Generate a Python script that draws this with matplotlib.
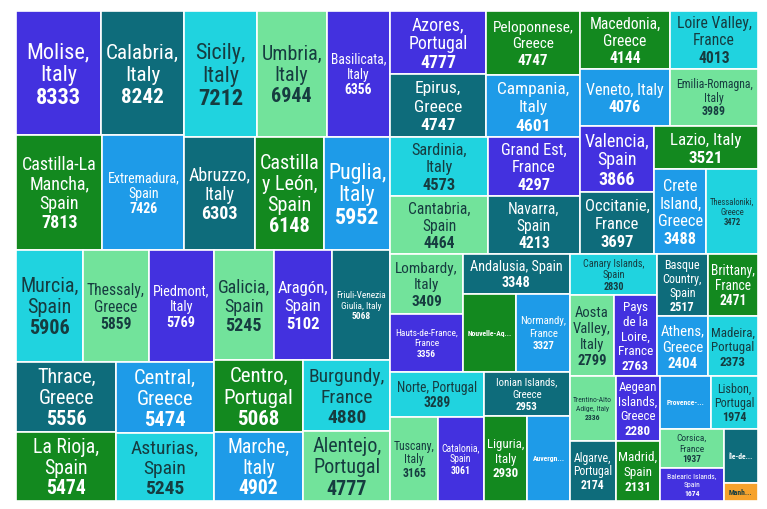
import matplotlib
matplotlib.use("Agg")
import matplotlib.pyplot as plt
from matplotlib import font_manager
from matplotlib.font_manager import FontProperties
from matplotlib.patches import Rectangle

# regions (already ordered by value, largest first)
regions = [
    "Molise, Italy", "Calabria, Italy", "Castilla-La Mancha, Spain", "Extremadura, Spain",
    "Sicily, Italy", "Umbria, Italy", "Basilicata, Italy", "Abruzzo, Italy",
    "Castilla y León, Spain", "Puglia, Italy", "Murcia, Spain", "Thessaly, Greece",
    "Piedmont, Italy", "Thrace, Greece", "La Rioja, Spain", "Central, Greece",
    "Asturias, Spain", "Galicia, Spain", "Aragón, Spain", "Friuli-Venezia Giulia, Italy",
    "Centro, Portugal", "Marche, Italy", "Burgundy, France", "Alentejo, Portugal",
    "Azores, Portugal", "Epirus, Greece", "Peloponnese, Greece", "Campania, Italy",
    "Sardinia, Italy", "Cantabria, Spain", "Grand Est, France", "Navarra, Spain",
    "Macedonia, Greece", "Veneto, Italy", "Loire Valley, France", "Emilia-Romagna, Italy",
    "Valencia, Spain", "Occitanie, France", "Lazio, Italy", "Crete Island, Greece",
    "Thessaloniki, Greece", "Lombardy, Italy", "Hauts-de-France, France", "Andalusia, Spain",
    "Nouvelle-Aquitaine, France", "Normandy, France", "Norte, Portugal", "Tuscany, Italy",
    "Catalonia, Spain", "Ionian Islands, Greece", "Liguria, Italy", "Auvergne-Rhône-Alpes, France",
    "Canary Islands, Spain", "Aosta Valley, Italy", "Pays de la Loire, France", "Basque Country, Spain",
    "Brittany, France", "Athens, Greece", "Madeira, Portugal", "Trentino-Alto Adige, Italy",
    "Aegean Islands, Greece", "Algarve, Portugal", "Madrid, Spain", "Provence-Alpes-Côte d'Azur, France",
    "Lisbon, Portugal", "Corsica, France", "Balearic Islands, Spain", "Île-de-France, France",
    "Manhattan",
]
values = [
    8333, 8242, 7813, 7426, 7212, 6944, 6356, 6303, 6148, 5952,
    5906, 5859, 5769, 5556, 5474, 5474, 5245, 5245, 5102, 5068,
    5068, 4902, 4880, 4777, 4777, 4747, 4747, 4601, 4573, 4464,
    4297, 4213, 4144, 4076, 4013, 3989, 3866, 3697, 3521, 3488,
    3472, 3409, 3356, 3348, 3335, 3327, 3289, 3165, 3061, 2953,
    2930, 2890, 2830, 2799, 2763, 2517, 2471, 2404, 2373, 2336,
    2280, 2174, 2131, 2100, 1974, 1937, 1674, 1470, 490,
]

palette = ["#4331df", "#0e6c7b", "#13891f", "#1e9be8", "#20d3df", "#72e39b"]
special = {"Manhattan": "#f6a22c"}
light = {"#20d3df", "#72e39b", "#f6a22c"}
dark_text = "#163c40"

W, H = 742, 490
DPI = 100


def binary(vals, x0, y0, x1, y1):
    # same idea as d3.treemapBinary
    sums = [0]
    for v in vals:
        sums.append(sums[-1] + v)
    out = [None] * len(vals)

    def part(i, j, value, x0, y0, x1, y1):
        if i >= j - 1:
            out[i] = (x0, y0, x1, y1)
            return
        off = sums[i]
        target = value / 2 + off
        k, hi = i + 1, j - 1
        while k < hi:
            mid = (k + hi) // 2
            if sums[mid] < target:
                k = mid + 1
            else:
                hi = mid
        if (target - sums[k - 1]) < (sums[k] - target) and i + 1 < k:
            k -= 1
        left = sums[k] - off
        right = value - left
        if (x1 - x0) > (y1 - y0):
            xk = (x0 * right + x1 * left) / value
            part(i, k, left, x0, y0, xk, y1)
            part(k, j, right, xk, y0, x1, y1)
        else:
            yk = (y0 * right + y1 * left) / value
            part(i, k, left, x0, y0, x1, yk)
            part(k, j, right, x0, yk, x1, y1)

    part(0, len(vals), sums[-1], x0, y0, x1, y1)
    return out


def pick_font():
    for fam in ["Roboto Condensed", "Roboto"]:
        try:
            font_manager.findfont(FontProperties(family=fam), fallback_to_default=False)
            return fam
        except Exception:
            continue
    return "DejaVu Sans"


FAM = pick_font()

fig = plt.figure(figsize=(7.67, 5.09), dpi=DPI)
ax = fig.add_axes([16 / 767, 1 - 501 / 509, W / 767, H / 509])
ax.set_xlim(0, W)
ax.set_ylim(H, 0)
ax.axis("off")
renderer = fig.canvas.get_renderer()


def fp(size, bold=False):
    return FontProperties(family=FAM, size=size, weight="bold" if bold else "normal")


def tw(s, size, bold=False):
    return renderer.get_text_width_height_descent(s, fp(size, bold), ismath=False)[0]


def pitch(size):
    em = size * DPI / 72
    return min(1.15 * em, 0.9 * em + 3)


def wrap(words, size, maxw):
    lines, cur = [], ""
    for wd in words:
        trial = wd if not cur else cur + " " + wd
        if tw(trial, size) <= maxw:
            cur = trial
        else:
            if not cur or tw(wd, size) > maxw:
                return None
            lines.append(cur)
            cur = wd
    lines.append(cur)
    return lines


rects = binary(values, 0, 0, W, H)
sizes = [16 - 0.25 * i for i in range(45)]

for n, (lab, val, (x0, y0, x1, y1)) in enumerate(zip(regions, values, rects)):
    col = special.get(lab, palette[n % len(palette)])
    ax.add_patch(Rectangle((x0, y0), x1 - x0, y1 - y0, facecolor=col,
                           edgecolor="white", linewidth=1.2))
    tcol = dark_text if col in light else "white"
    bw, bh = x1 - x0, y1 - y0
    cx, cy = (x0 + x1) / 2, (y0 + y1) / 2
    maxw = bw * 0.88
    chosen = None
    for s in sizes:
        lines = wrap(lab.split(" "), s, maxw)
        if lines is None or tw(str(val), s, True) > maxw:
            continue
        if pitch(s) * (len(lines) + 1) > bh - 6:
            continue
        chosen = (s, lines)
        break
    if chosen is None:
        # no room: short bold name only
        s = 5.5
        em = s * DPI / 72
        short = lab
        k = len(lab)
        while tw(short, s, True) > bw - 8 and k > 1:
            k -= 1
            short = lab[:k] + "..."
        ax.text(cx, cy + 0.36 * em, short, ha="center", va="baseline",
                fontproperties=fp(s, True), color=tcol)
        continue
    s, lines = chosen
    em = s * DPI / 72
    p = pitch(s)
    rows = lines + [str(val)]
    top = cy - p * len(rows) / 2
    for i, r in enumerate(rows):
        yb = top + (i + 0.5) * p + 0.36 * em
        ax.text(cx, yb, r, ha="center", va="baseline",
                fontproperties=fp(s, i == len(rows) - 1), color=tcol)

fig.savefig("out.png", dpi=DPI, facecolor="white")
